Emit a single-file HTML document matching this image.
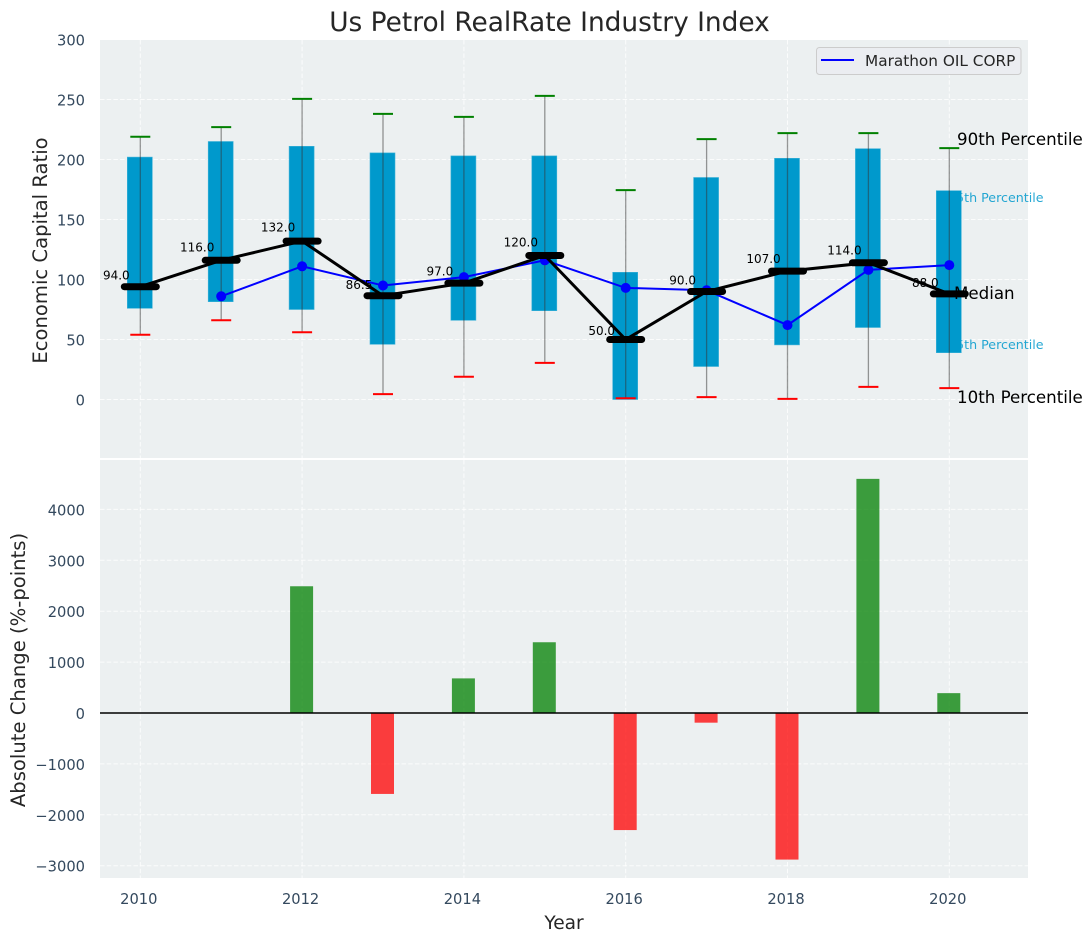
<!DOCTYPE html>
<html>
<head>
<meta charset="utf-8">
<title>Us Petrol RealRate Industry Index</title>
<style>
html,body{margin:0;padding:0;background:#fff;}
svg{display:block;font-family:"DejaVu Sans","Liberation Sans",sans-serif;}
</style>
</head>
<body>
<svg id="chart" width="1092" height="942" viewBox="0 0 1092 942" xmlns="http://www.w3.org/2000/svg"></svg>
<script>
const years = [2010,2011,2012,2013,2014,2015,2016,2017,2018,2019,2020];
const p90 = [219,227,250.5,238,235.5,253,174.5,217,222,222,209.5];
const p75 = [202,215,211,205.5,203,203,106,185,201,209,174];
const median = [94,116,132,86.5,97,120,50,90,107,114,88];
const p25 = [76,81.5,75,46,66,74,0,27.5,45.5,60,39];
const p10 = [54,66,56,4.5,19,30.5,1,2,0.5,10.5,9.5];
const company = [null,86,111,95,102,116,93,91,62,108,112];
const changes = [null,null,2490,-1590,680,1390,-2300,-190,-2880,4600,390];
const xTicks = [2010,2012,2014,2016,2018,2020];
const topTicks = [0,50,100,150,200,250,300];
const bottomTicks = [-3000,-2000,-1000,0,1000,2000,3000,4000];

const X = v => 140.3 + (v - 2010) * 80.9;
const Y1 = v => 399.5 - v * 1.2;
const Y2 = v => 713 - v * 0.0509;
const PLOT = {left:100,right:1028,top1:40,bottom1:458,top2:460,bottom2:878};
const svg = document.getElementById('chart');

function mk(tag, props, parent){
  const e = document.createElementNS('http://www.w3.org/2000/svg', tag);
  for (const k in props) e.setAttribute(k, props[k]);
  (parent || svg).appendChild(e);
  return e;
}
function line(x1,y1,x2,y2,stroke,w,extra,parent){
  return mk('line',Object.assign({x1,y1,x2,y2,stroke,'stroke-width':w},extra||{}),parent);
}
function label(x,y,str,size,fill,extra,parent){
  const t = mk('text',Object.assign({x,y,'font-size':size,fill},extra||{}),parent);
  t.textContent = str;
  return t;
}
const fmtTick = v => (v < 0 ? '\u2212' + Math.abs(v) : String(v));
const GRID = {'stroke-dasharray':'4.5 2.2','stroke-opacity':0.8};
let el;

/* panels */
el = mk('rect',{x:PLOT.left,y:PLOT.top1,width:PLOT.right-PLOT.left,height:PLOT.bottom1-PLOT.top1,fill:'#ecf0f1'});


el = mk('rect',{x:PLOT.left,y:PLOT.top2,width:PLOT.right-PLOT.left,height:PLOT.bottom2-PLOT.top2,fill:'#ecf0f1'});



/* grid */
xTicks.forEach(v => {
  el = line(X(v),PLOT.top1,X(v),PLOT.bottom1,'#fff',1,GRID);
  
  
  el = line(X(v),PLOT.top2,X(v),PLOT.bottom2,'#fff',1,GRID);
  
  
  el = label(X(v)-1.5,904,String(v),14.67,'#34495e',{'text-anchor':'middle'});
  
  
});
topTicks.forEach(v => {
  el = line(PLOT.left,Y1(v),PLOT.right,Y1(v),'#fff',1,GRID);
  
  
  el = label(85,Y1(v)+6,fmtTick(v),14.67,'#34495e',{'text-anchor':'end'});
  
  
});
bottomTicks.forEach(v => {
  el = line(PLOT.left,Y2(v),PLOT.right,Y2(v),'#fff',1,GRID);
  
  
  el = label(85,Y2(v)+6,fmtTick(v),14.67,'#34495e',{'text-anchor':'end'});
  
  
});

/* side annotations under the boxes */
el = label(948,202,'75th Percentile',12.67,'#0099cc',{'fill-opacity':0.85});


el = label(948,349,'25th Percentile',12.67,'#0099cc',{'fill-opacity':0.85});



/* boxes */
years.forEach((yr,i) => {
  el = mk('rect',{x:X(yr)-13,y:Y1(p75[i]),width:25,height:Y1(p25[i])-Y1(p75[i]),fill:'#0099cc',stroke:'#3fb2d8','stroke-width':0.6});
  
  
});

/* whiskers and caps */
years.forEach((yr,i) => {
  el = line(X(yr),Y1(p10[i]),X(yr),Y1(p90[i]),'#333',1.3,{'stroke-opacity':0.5});
  
  
  el = line(X(yr)-10,Y1(p90[i]),X(yr)+10,Y1(p90[i]),'#008000',2);
  
  
  el = line(X(yr)-10,Y1(p10[i]),X(yr)+10,Y1(p10[i]),'#ff0000',2);
  
  
});

/* company series */
const companyPts = years.map((yr,i) => company[i] === null ? null : X(yr) + ',' + Y1(company[i])).filter(Boolean).join(' ');
el = mk('polyline',{points:companyPts,fill:'none',stroke:'#0000ff','stroke-width':2});


years.forEach((yr,i) => {
  if (company[i] === null) return;
  el = mk('circle',{cx:X(yr),cy:Y1(company[i]),r:5,fill:'#0000ff'});
  
  
});

/* median series */
const medianPts = years.map((yr,i) => X(yr) + ',' + Y1(median[i])).join(' ');
el = mk('polyline',{points:medianPts,fill:'none',stroke:'#000','stroke-width':3});


years.forEach((yr,i) => {
  el = line(X(yr)-16,Y1(median[i]),X(yr)+16,Y1(median[i]),'#000',7,{'stroke-linecap':'round'});
  
  
  el = label(X(yr)-24,Y1(median[i]*1.05+5)+4.4,median[i].toFixed(1),12,'#000',{'text-anchor':'middle'});
  
  
});

/* black annotations */
el = label(957,145,'90th Percentile',16.67,'#000');


el = label(954,299,'Median',16.67,'#000');


el = label(957,403,'10th Percentile',16.67,'#000');



/* change bars */
years.forEach((yr,i) => {
  const v = changes[i];
  if (v === null) return;
  const top = Math.min(Y2(v),Y2(0));
  const h = Math.abs(Y2(v)-Y2(0));
  el = mk('rect',{x:X(yr)-12,y:top,width:23,height:h,fill:v >= 0 ? '#008000' : '#ff0000','fill-opacity':0.75});
  
  
});
el = line(PLOT.left,Y2(0),PLOT.right,Y2(0),'#000',1.5);



/* legend */
const legend = mk('g',{});


el = mk('rect',{x:816.5,y:47.5,width:204.5,height:27,rx:3,fill:'#ebedf1',stroke:'#cccccc','stroke-width':1},legend);


el = line(821,60,854,60,'#0000ff',2,{},legend);


el = label(865,66,'Marathon OIL CORP',15.3,'#262626',{},legend);



/* titles */
el = label(549.5,31,'Us Petrol RealRate Industry Index',26.4,'#262626',{'text-anchor':'middle'});


el = label(564,929,'Year',18.6,'#262626',{'text-anchor':'middle'});


el = label(47,250.5,'Economic Capital Ratio',19.6,'#262626',{'text-anchor':'middle',transform:'rotate(-90 47 250.5)'});


el = label(25,670,'Absolute Change (%-points)',19.6,'#262626',{'text-anchor':'middle',transform:'rotate(-90 25 670)'});


</script>
</body>
</html>
